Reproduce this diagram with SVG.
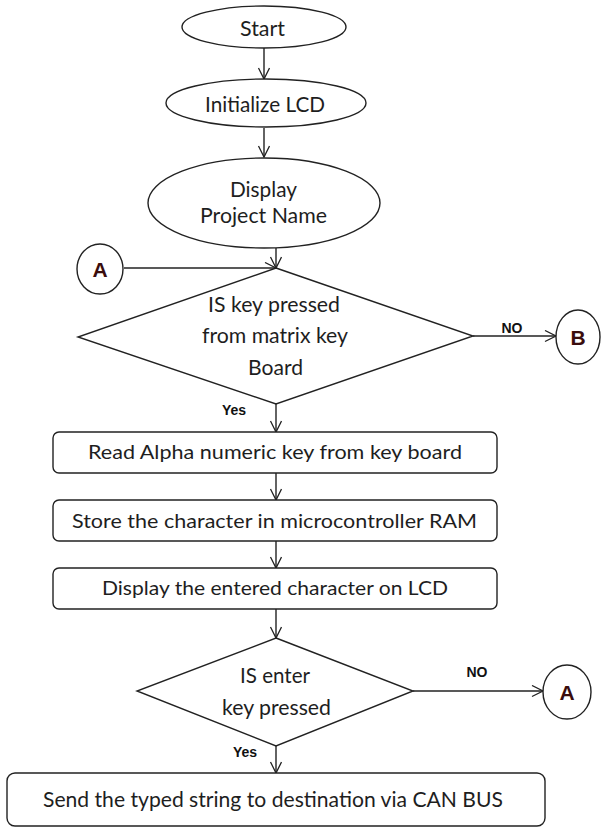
<svg xmlns="http://www.w3.org/2000/svg" width="602" height="827" viewBox="0 0 602 827">
<defs>
<marker id="arr" markerUnits="userSpaceOnUse" markerWidth="14" markerHeight="14" refX="12" refY="6" orient="auto">
<path d="M1,0.5 L12,6 L1,11.5" fill="none" stroke="#222" stroke-width="1.3"/>
</marker>
</defs>
<style>
.s{fill:#fff;stroke:#222;stroke-width:1.4}
.c{fill:none;stroke:#222;stroke-width:1.4;marker-end:url(#arr)}
.t{font-family:Lato,"Liberation Sans",sans-serif;font-size:20px;fill:#1e1e1e;text-anchor:middle}
.e{font-size:22px}
.d{font-size:21px}
.l{font-family:"Liberation Sans",Arial,sans-serif;font-size:14px;font-weight:bold;fill:#111;text-anchor:middle}
.k{font-family:"Liberation Sans",Arial,sans-serif;font-size:21px;font-weight:bold;fill:#3a0d0d;text-anchor:middle}
</style>
<rect width="602" height="827" fill="#fff"/>
<g id="connectors">
<line class="c" x1="264" y1="48" x2="264" y2="79"/>
<line class="c" x1="264" y1="128" x2="264" y2="157"/>
<line class="c" x1="276" y1="248" x2="276" y2="268"/>
<line class="c" x1="124" y1="268" x2="276" y2="268"/>
<line class="c" x1="473" y1="336" x2="556" y2="336"/>
<line class="c" x1="276" y1="404" x2="276" y2="432"/>
<line class="c" x1="276" y1="473" x2="276" y2="500"/>
<line class="c" x1="276" y1="541" x2="276" y2="568"/>
<line class="c" x1="276" y1="609" x2="276" y2="638"/>
<line class="c" x1="413" y1="691" x2="543" y2="691"/>
<line class="c" x1="276" y1="746" x2="276" y2="773"/>
<text class="l" x="512" y="333">NO</text>
<text class="l" x="234" y="415">Yes</text>
<text class="l" x="477" y="677">NO</text>
<text class="l" x="245" y="757">Yes</text>
</g>
<g id="start">
<ellipse class="s" cx="264" cy="27" rx="82" ry="21"/>
<text class="t e" x="262.5" y="36" textLength="45" lengthAdjust="spacingAndGlyphs">Start</text>
</g>
<g id="init">
<ellipse class="s" cx="266" cy="103" rx="100" ry="24"/>
<text class="t d" x="265" y="112" textLength="120" lengthAdjust="spacingAndGlyphs">Initialize LCD</text>
</g>
<g id="display">
<ellipse class="s" cx="264" cy="203" rx="116" ry="45"/>
<text class="t e" x="263.5" y="197" textLength="67" lengthAdjust="spacingAndGlyphs">Display</text>
<text class="t e" x="263.5" y="223" textLength="127" lengthAdjust="spacingAndGlyphs">Project Name</text>
</g>
<g id="connA1">
<ellipse class="s" cx="100" cy="269" rx="23" ry="25"/>
<text class="k" x="100" y="277">A</text>
</g>
<g id="decision1">
<polygon class="s" points="276,268 473,336 276,404 78,337"/>
<text class="t d" x="274" y="312" textLength="132" lengthAdjust="spacingAndGlyphs">IS key pressed</text>
<text class="t d" x="275" y="343" textLength="146" lengthAdjust="spacingAndGlyphs">from matrix key</text>
<text class="t d" x="275.5" y="375" textLength="55" lengthAdjust="spacingAndGlyphs">Board</text>
</g>
<g id="connB">
<ellipse class="s" cx="578" cy="337" rx="22" ry="27"/>
<text class="k" x="578" y="345">B</text>
</g>
<g id="read">
<rect class="s" x="53" y="432" width="444" height="41" rx="6"/>
<text class="t" x="275" y="459" textLength="374" lengthAdjust="spacingAndGlyphs">Read Alpha numeric key from key board</text>
</g>
<g id="store">
<rect class="s" x="53" y="500" width="444" height="41" rx="6"/>
<text class="t" x="274.5" y="528" textLength="405" lengthAdjust="spacingAndGlyphs">Store the character in microcontroller RAM</text>
</g>
<g id="show">
<rect class="s" x="53" y="568" width="444" height="41" rx="6"/>
<text class="t" x="275" y="595" textLength="346" lengthAdjust="spacingAndGlyphs">Display the entered character on LCD</text>
</g>
<g id="decision2">
<polygon class="s" points="276,638 413,691 276,746 137,691"/>
<text class="t d" x="275" y="683" textLength="70" lengthAdjust="spacingAndGlyphs">IS enter</text>
<text class="t d" x="276.5" y="715" textLength="109" lengthAdjust="spacingAndGlyphs">key pressed</text>
</g>
<g id="connA2">
<ellipse class="s" cx="567" cy="692" rx="24" ry="27"/>
<text class="k" x="567" y="700">A</text>
</g>
<g id="send">
<rect class="s" x="7" y="773" width="538" height="53" rx="8"/>
<text class="t e" x="273" y="807" textLength="460" lengthAdjust="spacingAndGlyphs">Send the typed string to destination via CAN BUS</text>
</g>
</svg>
